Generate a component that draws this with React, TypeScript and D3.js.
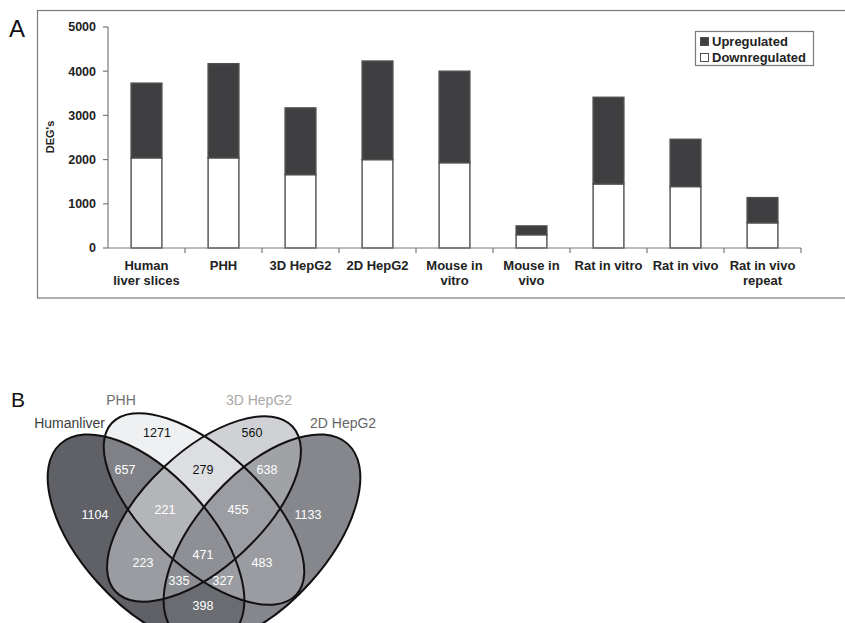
import React from "react";
import * as d3 from "d3";

// ---------- Panel A data ----------
const categories = [
  "Human liver slices", "PHH", "3D HepG2", "2D HepG2", "Mouse in vitro",
  "Mouse in vivo", "Rat in vitro", "Rat in vivo", "Rat in vivo repeat",
];
const categoryLines = [
  ["Human", "liver slices"], ["PHH"], ["3D HepG2"], ["2D HepG2"], ["Mouse in", "vitro"],
  ["Mouse in", "vivo"], ["Rat in vitro"], ["Rat in vivo"], ["Rat in vivo", "repeat"],
];
const downregulated = [2040, 2040, 1660, 2000, 1930, 300, 1450, 1390, 570];
const upregulated = [1690, 2130, 1510, 2230, 2070, 200, 1960, 1070, 570];
const yTicks = [0, 1000, 2000, 3000, 4000, 5000];
const legendNames = ["Upregulated", "Downregulated"];
const yTitle = "DEG's";

// ---------- Panel B data ----------
const vennSets = ["Humanliver", "PHH", "3D HepG2", "2D HepG2"];
const vennRegions = [
  [0], [1], [2], [3], [0, 1], [1, 2], [2, 3], [0, 2], [1, 3], [0, 3],
  [0, 1, 2], [1, 2, 3], [0, 2, 3], [0, 1, 3], [0, 1, 2, 3],
];
const vennCounts = [1104, 1271, 560, 1133, 657, 279, 638, 223, 483, 398, 221, 455, 335, 327, 471];

// ---------- layout / style ----------
const FONT = "'Liberation Sans', Arial, Helvetica, sans-serif";
const upColor = "#3f3f42";
const downColor = "#ffffff";
const barStroke = "#4e4e4e";
const axisColor = "#7a7a7a";

// ellipse geometry in unit coords: [cx, cy, a, b, rotation(deg, svg)]
const ellipseGeom = [
  [0.3389, 0.4922, 0.3556, 0.1806, 48],
  [0.5, 0.5756, 0.35, 0.1611, 43],
  [0.5, 0.5756, 0.3361, 0.1611, -43],
  [0.6611, 0.4922, 0.3556, 0.1806, -48],
];
const regionFill = [
  "#5f6167", "#eff0f2", "#cfd1d5", "#85878c", "#7f8187", "#dcdee1", "#a0a2a6",
  "#9a9ca1", "#9a9ca1", "#6a6c71", "#b3b5b9", "#9b9da2", "#8b8d92", "#9a9ca1", "#8e9095",
];
const regionLabelPos = [
  [95, 515], [157, 433], [252, 433], [308, 515], [125, 470], [203, 470], [267, 470],
  [143, 563], [262, 563], [203, 606], [165, 510], [238, 510], [179, 581], [223, 581], [203, 555],
];
const setLabelColor = ["#3c3c3c", "#6e6e6e", "#a8a8a8", "#666666"];
const setLabelPos: [number, number, string][] = [
  [105, 428, "end"], [121, 405, "middle"], [259, 405, "middle"], [310, 428, "start"],
];

export default function App() {
  const W = 845, H = 623;
  // Panel A scales
  const x = d3.scaleBand<string>().domain(categories).range([108, 801]).padding(0);
  const y = d3.scaleLinear().domain([0, 5000]).range([248, 27]);
  const bw = x.bandwidth() * 0.4;
  const rows = categories.map((c, i) => ({ cat: c, down: downregulated[i], up: upregulated[i] }));
  const stacked = d3.stack<any>().keys(["down", "up"])(rows);
  const fills: Record<string, string> = { down: downColor, up: upColor };

  // Panel B scales (unit -> px)
  const vs = 360;
  const vx = d3.scaleLinear().domain([0, 1]).range([24, 24 + vs]);
  const vy = d3.scaleLinear().domain([0, 1]).range([716.2, 716.2 - vs]);
  const ellipses = ellipseGeom.map(([cx, cy, a, b, r]) => ({
    cx: vx(cx), cy: vy(cy), rx: a * vs, ry: b * vs, rot: r,
  }));
  const ell = (e: any, props: any = {}) => (
    <ellipse cx={e.cx} cy={e.cy} rx={e.rx} ry={e.ry}
      transform={`rotate(${e.rot},${e.cx},${e.cy})`} {...props} />
  );

  const regionEl = (sets: number[], k: number) => {
    let inner: any = (
      <rect x={0} y={360} width={420} height={300} fill={regionFill[k]} mask={`url(#vm${k})`} />
    );
    sets.forEach((s) => {
      inner = <g clipPath={`url(#vc${s})`}>{inner}</g>;
    });
    return <g key={k}>{inner}</g>;
  };

  return (
    <svg width={W} height={H} style={{ position: "fixed", left: 0, top: 0, background: "#fff" }}
      fontFamily={FONT}>
      <rect x={0} y={0} width={W} height={H} fill="#fff" />
      {/* ---------- Panel A ---------- */}
      <text x={9} y={37} fontSize={24} fill="#111">A</text>
      <rect x={37.5} y={10.5} width={900} height={287.5} fill="none" stroke={axisColor} strokeWidth={1.2} />
      {/* bars */}
      {stacked.map((layer) =>
        layer.map((d, i) => (
          <rect key={layer.key + i}
            x={(x(categories[i]) as number) + (x.bandwidth() - bw) / 2}
            y={y(d[1])} width={bw} height={y(d[0]) - y(d[1])}
            fill={fills[layer.key]} stroke={barStroke} strokeWidth={1.4} />
        ))
      )}
      {/* y axis */}
      <line x1={108} x2={108} y1={y(5000)} y2={y(0)} stroke={axisColor} strokeWidth={1.2} />
      {yTicks.map((t) => (
        <g key={t}>
          <line x1={103} x2={108} y1={y(t)} y2={y(t)} stroke={axisColor} strokeWidth={1.2} />
          <text x={96} y={y(t)} dy="0.35em" textAnchor="end" fontSize={12.5} fontWeight="bold" fill="#222">{t}</text>
        </g>
      ))}
      <text transform={`translate(54,137) rotate(-90)`} textAnchor="middle" fontSize={11} fontWeight="bold" fill="#222">{yTitle}</text>
      {/* x axis */}
      <line x1={108} x2={801} y1={y(0)} y2={y(0)} stroke={axisColor} strokeWidth={1.2} />
      {categories.map((c, i) => (
        <line key={"t" + i} x1={(x(c) as number) + x.bandwidth()} x2={(x(c) as number) + x.bandwidth()}
          y1={y(0)} y2={y(0) + 5} stroke={axisColor} strokeWidth={1.2} />
      ))}
      {categories.map((c, i) => (
        <text key={"l" + i} x={(x(c) as number) + x.bandwidth() / 2} y={270} textAnchor="middle"
          fontSize={13} fontWeight="bold" fill="#222">
          {categoryLines[i].map((ln, j) => (
            <tspan key={j} x={(x(c) as number) + x.bandwidth() / 2} y={270 + j * 14.5}>{ln}</tspan>
          ))}
        </text>
      ))}
      {/* legend */}
      <rect x={695.5} y={31.5} width={118} height={34} fill="#fff" stroke={axisColor} strokeWidth={1.2} />
      {legendNames.map((n, i) => (
        <g key={n}>
          <rect x={700.5} y={37.5 + i * 16} width={8} height={8}
            fill={i === 0 ? upColor : downColor} stroke={barStroke} strokeWidth={1} />
          <text x={712} y={46 + i * 16} fontSize={13} fontWeight="bold" fill="#222">{n}</text>
        </g>
      ))}

      {/* ---------- Panel B ---------- */}
      <text x={11} y={407} fontSize={21} fill="#111">B</text>
      <defs>
        {ellipses.map((e, i) => (
          <clipPath id={`vc${i}`} key={i}>{ell(e)}</clipPath>
        ))}
        {vennRegions.map((sets, k) => (
          <mask id={`vm${k}`} key={k} maskUnits="userSpaceOnUse" x={0} y={360} width={420} height={300}>
            <rect x={0} y={360} width={420} height={300} fill="#fff" />
            {ellipses.map((e, i) => (sets.includes(i) ? null : <React.Fragment key={i}>{ell(e, { fill: "#000" })}</React.Fragment>))}
          </mask>
        ))}
      </defs>
      {vennRegions.map((sets, k) => regionEl(sets, k))}
      {ellipses.map((e, i) => (
        <React.Fragment key={"o" + i}>{ell(e, { fill: "none", stroke: "#111", strokeWidth: 2 })}</React.Fragment>
      ))}
      {vennCounts.map((v, k) => {
        const sets = vennRegions[k];
        const dark = sets.every((s) => s === 1 || s === 2);
        return (
          <text key={"c" + k} x={regionLabelPos[k][0]} y={regionLabelPos[k][1]} dy="0.35em"
            textAnchor="middle" fontSize={12.5} fill={dark ? "#111" : "#fff"}>{v}</text>
        );
      })}
      {vennSets.map((s, i) => (
        <text key={s} x={setLabelPos[i][0]} y={setLabelPos[i][1]} textAnchor={setLabelPos[i][2] as any}
          fontSize={14} fill={setLabelColor[i]}>{s}</text>
      ))}
    </svg>
  );
}
